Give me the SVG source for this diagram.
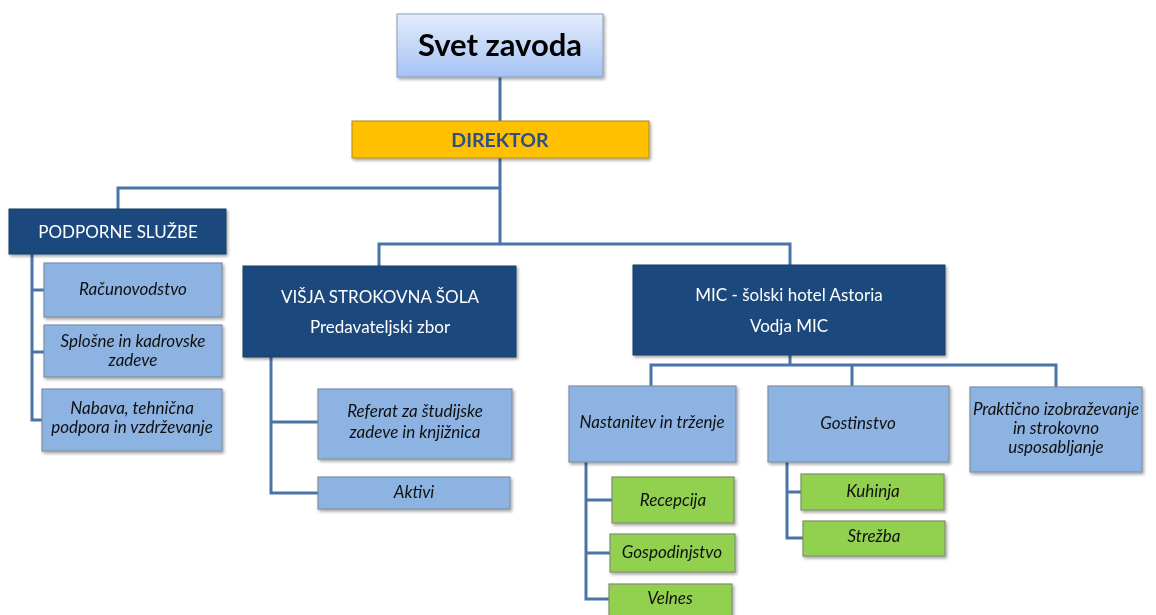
<svg xmlns="http://www.w3.org/2000/svg" width="1156" height="615" viewBox="0 0 1156 615">
<style>
text{font-family:Lato,"Open Sans","Liberation Sans",sans-serif;text-anchor:middle}
.dark rect{fill:#1f497d;stroke:#1a3d68;stroke-width:1}
.dark text{fill:#ffffff;font-size:17px}
.lb rect{fill:#8db3e2;stroke:#7f8fa6;stroke-width:1.2}
.lb text{fill:#111;font-size:17px;font-style:italic}
.gr rect{fill:#92d050;stroke:#7f8f70;stroke-width:1.2}
.gr text{fill:#111;font-size:17px;font-style:italic}
.con path{fill:none;stroke:#4a74a8;stroke-width:3}
</style>
<defs>
<linearGradient id="gSvet" x1="0" y1="0" x2="0" y2="1">
<stop offset="0" stop-color="#e4edfc"/>
<stop offset="1" stop-color="#a5c2f4"/>
</linearGradient>
<filter id="sh" x="-5%" y="-5%" width="115%" height="130%">
<feDropShadow dx="1.5" dy="2" stdDeviation="1.5" flood-color="#000" flood-opacity="0.35"/>
</filter>
</defs>
<rect width="1156" height="615" fill="#ffffff"/>
<g class="con">
<path d="M500 77V121"/>
<path d="M500 158V244"/>
<path d="M500 188H118V209"/>
<path d="M379 266V244H790V265"/>
<path d="M32 254V420H42M32 290H44M32 352H44"/>
<path d="M271 357V493H318M271 422H318"/>
<path d="M790 355V365M651 386V365H1056V387M852 365V386"/>
<path d="M586 462V599H609M586 500H612M586 553H610"/>
<path d="M787 462V538H803M787 492H801"/>
</g>
<g id="svet" filter="url(#sh)">
<rect x="397" y="14" width="206" height="63" fill="url(#gSvet)" stroke="#8a9bb5" stroke-width="1"/>
<text x="500" y="56" font-size="31" font-weight="bold" fill="#000">Svet zavoda</text>
</g>
<g id="direktor" filter="url(#sh)">
<rect x="352" y="121" width="297" height="37" fill="#ffc000" stroke="#b48a1a" stroke-width="1"/>
<text x="500" y="147" font-size="19.5" font-weight="bold" fill="#2d5083">DIREKTOR</text>
</g>
<g id="podporne" class="dark" filter="url(#sh)">
<rect x="9" y="209" width="217" height="45"/>
<text x="118" y="238">PODPORNE SLUŽBE</text>
</g>
<g id="racunovodstvo" class="lb" filter="url(#sh)">
<rect x="44" y="263" width="178" height="54"/>
<text x="133" y="295">Računovodstvo</text>
</g>
<g id="splosne" class="lb" filter="url(#sh)">
<rect x="44" y="325" width="178" height="52"/>
<text x="133" y="347">Splošne in kadrovske</text>
<text x="133" y="366">zadeve</text>
</g>
<g id="nabava" class="lb" filter="url(#sh)">
<rect x="42" y="389" width="180" height="62"/>
<text x="132" y="414">Nabava, tehnična</text>
<text x="132" y="433">podpora in vzdrževanje</text>
</g>
<g id="visja" class="dark" filter="url(#sh)">
<rect x="243" y="266" width="273" height="91"/>
<text x="380" y="303">VIŠJA STROKOVNA ŠOLA</text>
<text x="380" y="333">Predavateljski zbor</text>
</g>
<g id="referat" class="lb" filter="url(#sh)">
<rect x="318" y="389" width="194" height="70"/>
<text x="415" y="417">Referat za študijske</text>
<text x="415" y="438">zadeve in knjižnica</text>
</g>
<g id="aktivi" class="lb" filter="url(#sh)">
<rect x="318" y="477" width="192" height="32"/>
<text x="414" y="498">Aktivi</text>
</g>
<g id="mic" class="dark" filter="url(#sh)">
<rect x="633" y="265" width="312" height="90"/>
<text x="789" y="301">MIC - šolski hotel Astoria</text>
<text x="789" y="332">Vodja MIC</text>
</g>
<g id="nastanitev" class="lb" filter="url(#sh)">
<rect x="569" y="386" width="167" height="76"/>
<text x="652" y="428">Nastanitev in trženje</text>
</g>
<g id="gostinstvo" class="lb" filter="url(#sh)">
<rect x="768" y="386" width="181" height="76"/>
<text x="858" y="429">Gostinstvo</text>
</g>
<g id="prakticno" class="lb" filter="url(#sh)">
<rect x="970" y="387" width="172" height="85"/>
<text x="1056" y="415">Praktično izobraževanje</text>
<text x="1056" y="434">in strokovno</text>
<text x="1056" y="453">usposabljanje</text>
</g>
<g id="recepcija" class="gr" filter="url(#sh)">
<rect x="612" y="477" width="122" height="46"/>
<text x="673" y="506">Recepcija</text>
</g>
<g id="gospodinjstvo" class="gr" filter="url(#sh)">
<rect x="610" y="534" width="125" height="38"/>
<text x="672" y="558">Gospodinjstvo</text>
</g>
<g id="velnes" class="gr" filter="url(#sh)">
<rect x="609" y="584" width="123" height="36"/>
<text x="670" y="604">Velnes</text>
</g>
<g id="kuhinja" class="gr" filter="url(#sh)">
<rect x="801" y="474" width="143" height="36"/>
<text x="873" y="497">Kuhinja</text>
</g>
<g id="strezba" class="gr" filter="url(#sh)">
<rect x="803" y="521" width="142" height="35"/>
<text x="874" y="542">Strežba</text>
</g>
</svg>
